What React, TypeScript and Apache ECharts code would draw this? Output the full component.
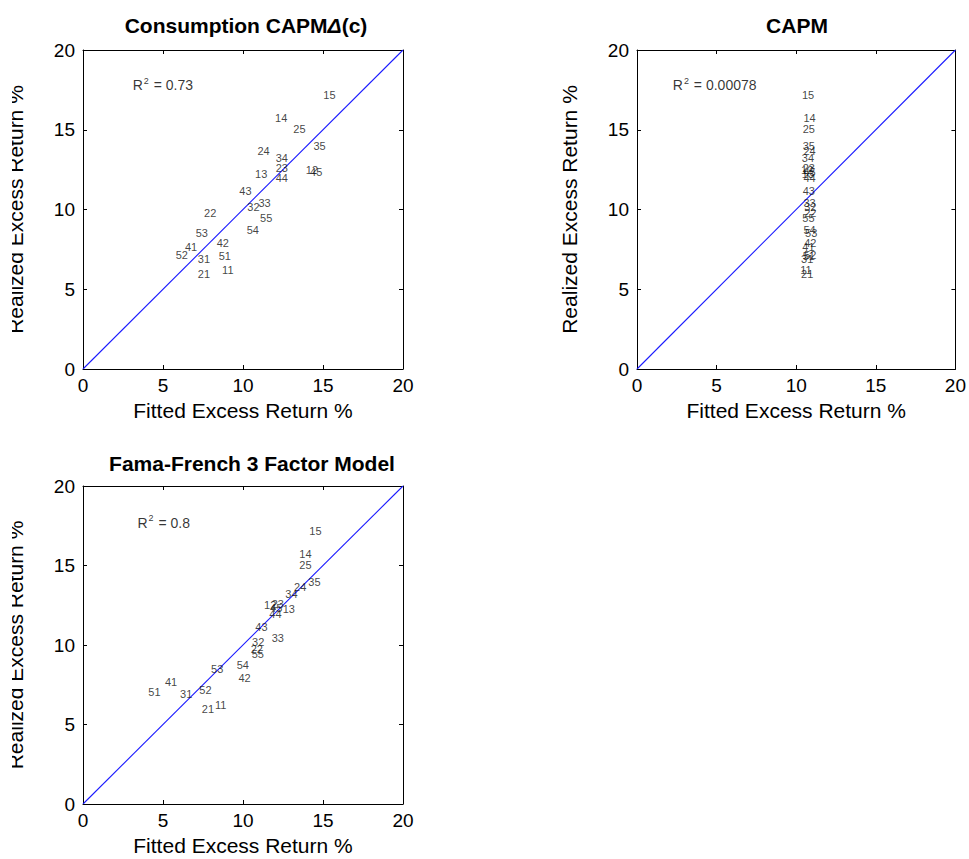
import React, { useEffect, useRef } from 'react';
import * as echarts from 'echarts';

const portfolios = ['11', '12', '13', '14', '15', '21', '22', '23', '24', '25', '31', '32', '33', '34', '35', '41', '42', '43', '44', '45', '51', '52', '53', '54', '55'];
const realized = [6.2, 12.5, 12.25, 15.75, 17.2, 5.95, 9.77, 12.6, 13.65, 15.05, 6.9, 10.17, 10.42, 13.2, 13.95, 7.65, 7.92, 11.15, 11.97, 12.32, 7.07, 7.16, 8.52, 8.72, 9.45];
const fittedCCAPM = [8.69, 13.92, 10.75, 12.0, 15.02, 7.17, 7.56, 12.04, 10.9, 13.14, 7.17, 10.27, 10.96, 12.04, 14.4, 6.37, 8.35, 9.77, 12.04, 14.19, 8.48, 5.79, 7.04, 10.23, 11.06];
const fittedCAPM = [10.25, 10.3, 10.35, 10.45, 10.36, 10.3, 10.5, 10.4, 10.45, 10.4, 10.3, 10.5, 10.45, 10.35, 10.4, 10.38, 10.5, 10.4, 10.45, 10.45, 10.4, 10.5, 10.55, 10.45, 10.38];
const fittedFF3 = [8.25, 11.31, 12.48, 13.52, 14.14, 7.42, 10.48, 11.79, 13.19, 13.52, 6.06, 10.56, 11.79, 12.64, 14.08, 5.12, 9.71, 10.77, 11.64, 11.69, 4.08, 7.27, 8.0, 9.6, 10.54];
const titles = ['Consumption CAPM', 'CAPM', 'Fama-French 3 Factor Model'];
const r2Values = ['0.73', '0.00078', '0.8'];
const r2Anchor = [[3.1, 17.8], [2.25, 17.8], [3.4, 17.7]];
const diagonal = [[0, 0], [20, 20]];
const axisMin = 0;
const axisMax = 20;
const axisStep = 5;
const xName = 'Fitted Excess Return %';
const yName = 'Realized Excess Return %';

const FONT = "'Liberation Sans', Arial, Helvetica, sans-serif";
const BLUE = '#1a1aff';

export default function App() {
  const ref = useRef<HTMLDivElement>(null);
  useEffect(() => {
    const chart = echarts.init(ref.current as HTMLDivElement, null, { renderer: 'svg' });
    const grids = [
      { left: 83, top: 50, width: 320, height: 319 },
      { left: 637, top: 50, width: 320, height: 319 },
      { left: 83, top: 486, width: 320, height: 318 },
    ];
    const fittedSets = [fittedCCAPM, fittedCAPM, fittedFF3];
    const xAxis: any[] = [];
    const yAxis: any[] = [];
    const series: any[] = [];
    const line = { show: true, onZero: false, lineStyle: { color: '#000', width: 1 } };
    const tick = { show: true, inside: true, length: 4, lineStyle: { color: '#000', width: 1 } };
    grids.forEach((g, gi) => {
      xAxis.push({
        gridIndex: gi, type: 'value', min: axisMin, max: axisMax, interval: axisStep, position: 'bottom',
        axisLine: line, axisTick: tick, splitLine: { show: false },
        axisLabel: { fontSize: 19, color: '#000', margin: 7, fontFamily: FONT },
        name: xName, nameLocation: 'middle', nameGap: 31,
        nameTextStyle: { fontSize: 21, color: '#000', fontFamily: FONT },
      });
      xAxis.push({
        gridIndex: gi, type: 'value', min: axisMin, max: axisMax, interval: axisStep, position: 'top',
        axisLine: line, axisTick: tick, splitLine: { show: false }, axisLabel: { show: false },
      });
      yAxis.push({
        gridIndex: gi, type: 'value', min: axisMin, max: axisMax, interval: axisStep, position: 'left',
        axisLine: line, axisTick: tick, splitLine: { show: false },
        axisLabel: { fontSize: 19, color: '#000', margin: 8, fontFamily: FONT },
        name: yName, nameLocation: 'middle', nameGap: 57,
        nameTextStyle: { fontSize: 21, color: '#000', fontFamily: FONT },
      });
      yAxis.push({
        gridIndex: gi, type: 'value', min: axisMin, max: axisMax, interval: axisStep, position: 'right',
        axisLine: line, axisTick: tick, splitLine: { show: false }, axisLabel: { show: false },
      });
      const fitted = fittedSets[gi];
      series.push({
        type: 'line', xAxisIndex: gi * 2, yAxisIndex: gi * 2, data: diagonal,
        color: BLUE, itemStyle: { color: BLUE },
        symbol: 'none', lineStyle: { color: BLUE, width: 1.1 }, silent: true, z: 1,
      });
      series.push({
        type: 'scatter', xAxisIndex: gi * 2, yAxisIndex: gi * 2,
        data: portfolios.map((p, i) => ({ name: p, value: [fitted[i], realized[i]] })),
        symbolSize: 0.1, itemStyle: { color: 'rgba(0,0,0,0)' }, z: 3,
        label: {
          show: true, position: 'right', distance: 0, formatter: '{b}',
          fontSize: 11, color: '#111', fontFamily: FONT, verticalAlign: 'middle',
        },
      });
      series.push({
        type: 'scatter', xAxisIndex: gi * 2, yAxisIndex: gi * 2,
        data: [{ name: 'R2', value: r2Anchor[gi] }],
        symbolSize: 0.1, itemStyle: { color: 'rgba(0,0,0,0)' }, z: 3,
        label: {
          show: true, position: 'right', distance: 0,
          formatter: '{r|R}{s|2}{r| = ' + r2Values[gi] + '}',
          rich: {
            r: { fontSize: 14, color: '#000', fontFamily: FONT, lineHeight: 18 },
            s: { fontSize: 9, color: '#000', fontFamily: FONT, verticalAlign: 'top', padding: [0, 1, 0, 1], lineHeight: 10 },
          },
        },
      });
    });
    const titleStyle = { fontSize: 21, fontWeight: 'bold' as any, fontFamily: FONT, fill: '#000' };
    const option: any = {
      animation: false,
      backgroundColor: '#fff',
      grid: grids.map((g) => ({ ...g, containLabel: false, show: false })),
      xAxis, yAxis, series,
      graphic: [
        {
          type: 'text', x: 246, y: 25, z: 10,
          style: {
            text: '{t|' + titles[0] + '}{d|Δ}{t|(c)}', align: 'center', verticalAlign: 'middle',
            rich: {
              t: { ...titleStyle },
              d: { ...titleStyle, fontStyle: 'italic' },
            },
          },
        },
        { type: 'text', x: 797, y: 25, z: 10, style: { text: titles[1], align: 'center', verticalAlign: 'middle', font: 'bold 21px ' + FONT, fill: '#000' } },
        { type: 'text', x: 252, y: 463, z: 10, style: { text: titles[2], align: 'center', verticalAlign: 'middle', font: 'bold 21px ' + FONT, fill: '#000' } },
        { type: 'rect', z: 100, shape: { x: 0, y: 0, width: 12, height: 859 }, style: { fill: '#fff' } },
      ],
    };
    chart.setOption(option);
    return () => chart.dispose();
  }, []);
  return <div ref={ref} style={{ position: 'absolute', left: 0, top: 0, width: 969, height: 859, background: '#fff' }} />;
}
